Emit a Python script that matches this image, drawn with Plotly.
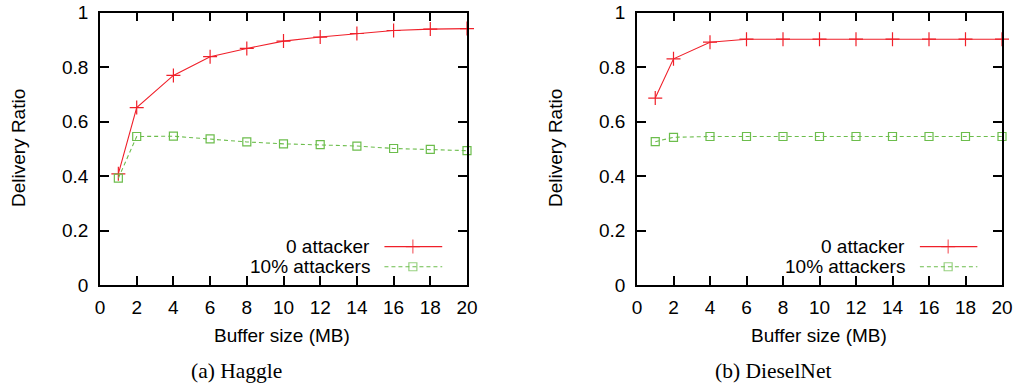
import plotly.graph_objects as go

# ---- data ----
buffer_mb = [1, 2, 4, 6, 8, 10, 12, 14, 16, 18, 20]
haggle_0 = [0.408, 0.651, 0.769, 0.838, 0.868, 0.895, 0.910, 0.923, 0.934, 0.939, 0.941]
haggle_10 = [0.392, 0.545, 0.546, 0.536, 0.525, 0.518, 0.515, 0.510, 0.501, 0.498, 0.493]
diesel_0 = [0.686, 0.830, 0.891, 0.902, 0.902, 0.902, 0.902, 0.902, 0.902, 0.902, 0.902]
diesel_10 = [0.526, 0.542, 0.545, 0.545, 0.545, 0.545, 0.545, 0.545, 0.545, 0.545, 0.545]
series_names = ["0 attacker", "10% attackers"]
x_ticks = [0, 2, 4, 6, 8, 10, 12, 14, 16, 18, 20]
y_ticks = [0, 0.2, 0.4, 0.6, 0.8, 1]
y_tick_labels = ["0", "0.2", "0.4", "0.6", "0.8", "1"]
captions = ["(a) Haggle", "(b) DieselNet"]

W, H = 1019, 385
RED = "#f0202a"
GREEN = "#6cbd4c"
SANS = "Liberation Sans, Arial, sans-serif"
SERIF = "Liberation Serif, Times New Roman, serif"
FS = 19


def px(x):
    return x / W


def py(y):
    return 1 - y / H


fig = go.Figure()

panels = [
    dict(x="x", y="y", s0=haggle_0, s1=haggle_10, dom=[px(100), px(467)]),
    dict(x="x2", y="y2", s0=diesel_0, s1=diesel_10, dom=[px(637), px(1002)]),
]

# legend key placement (data coords of each panel)
leg_text_x = 14.8
leg_line = (15.5, 18.65)
leg_mark_x = 17.05
leg_y = [0.141, 0.067]

for p in panels:
    fig.add_trace(go.Scatter(
        x=buffer_mb, y=p["s0"], xaxis=p["x"], yaxis=p["y"], mode="lines+markers",
        line=dict(color=RED, width=1.1),
        marker=dict(symbol="cross-thin-open", size=10, line=dict(color=RED, width=1.2)),
        showlegend=False, cliponaxis=False))
    fig.add_trace(go.Scatter(
        x=buffer_mb, y=p["s1"], xaxis=p["x"], yaxis=p["y"], mode="lines+markers",
        line=dict(color=GREEN, width=1.1, dash="4px,3px"),
        marker=dict(symbol="square-open", size=8, color=GREEN, line=dict(color=GREEN, width=1.2)),
        showlegend=False, cliponaxis=False))
    # legend keys
    for i, (name, col) in enumerate(zip(series_names, [RED, GREEN])):
        fig.add_trace(go.Scatter(
            x=[leg_line[0], leg_mark_x, leg_line[1]], y=[leg_y[i]] * 3,
            xaxis=p["x"], yaxis=p["y"], mode="lines+markers",
            line=dict(color=col, width=1.1, dash="solid" if i == 0 else "4px,3px"),
            marker=dict(symbol=["line-ns", "cross-thin-open" if i == 0 else "square-open", "line-ns"],
                        size=[0, 10 if i == 0 else 8, 0], color=col,
                        line=dict(color=col, width=1.2)),
            showlegend=False, hoverinfo="skip"))
        fig.add_annotation(x=leg_text_x, y=leg_y[i], xref=p["x"], yref=p["y"], text=name,
                           showarrow=False, xanchor="right", yanchor="middle",
                           font=dict(family=SANS, size=FS, color="black"))

axis_common = dict(showline=True, linecolor="black", linewidth=1.5, mirror="ticks",
                   ticks="inside", ticklen=9, tickwidth=1.5, tickcolor="black",
                   showgrid=False, zeroline=False, automargin=False,
                   ticklabeloverflow="allow",
                   tickfont=dict(family=SANS, size=FS, color="black"))

y_dom = [py(285), py(12.5)]
fig.update_layout(
    width=W, height=H, margin=dict(l=0, r=0, t=0, b=0),
    paper_bgcolor="white", plot_bgcolor="white",
    xaxis=dict(domain=panels[0]["dom"], range=[0, 20], tickvals=x_ticks, anchor="y",
               ticklabelstandoff=4, **axis_common),
    yaxis=dict(domain=y_dom, range=[0, 1], tickvals=y_ticks, ticktext=y_tick_labels, anchor="x",
               ticklabelstandoff=6, **axis_common),
    xaxis2=dict(domain=panels[1]["dom"], range=[0, 20], tickvals=x_ticks, anchor="y2",
                ticklabelstandoff=4, **axis_common),
    yaxis2=dict(domain=y_dom, range=[0, 1], tickvals=y_ticks, ticktext=y_tick_labels, anchor="x2",
                ticklabelstandoff=6, **axis_common),
)

# axis titles and captions (paper coords from pixels)
for xt, yt in [(282, 18), (819, 555)]:
    fig.add_annotation(x=px(xt), y=py(335), xref="paper", yref="paper", text="Buffer size (MB)",
                       showarrow=False, xanchor="center", yanchor="middle",
                       font=dict(family=SANS, size=FS, color="black"))
    fig.add_annotation(x=px(yt), y=py(148), xref="paper", yref="paper", text="Delivery Ratio",
                       showarrow=False, xanchor="center", yanchor="middle", textangle=-90,
                       font=dict(family=SANS, size=FS, color="black"))
for capx, cap in zip([236, 773], captions):
    fig.add_annotation(x=px(capx), y=py(371), xref="paper", yref="paper", text=cap,
                       showarrow=False, xanchor="center", yanchor="middle",
                       font=dict(family=SERIF, size=21.5, color="black"))

fig.write_html(
    "out.html",
    config={"displayModeBar": False},
    post_script="document.body.style.margin='0';document.documentElement.style.overflow='hidden';",
)
